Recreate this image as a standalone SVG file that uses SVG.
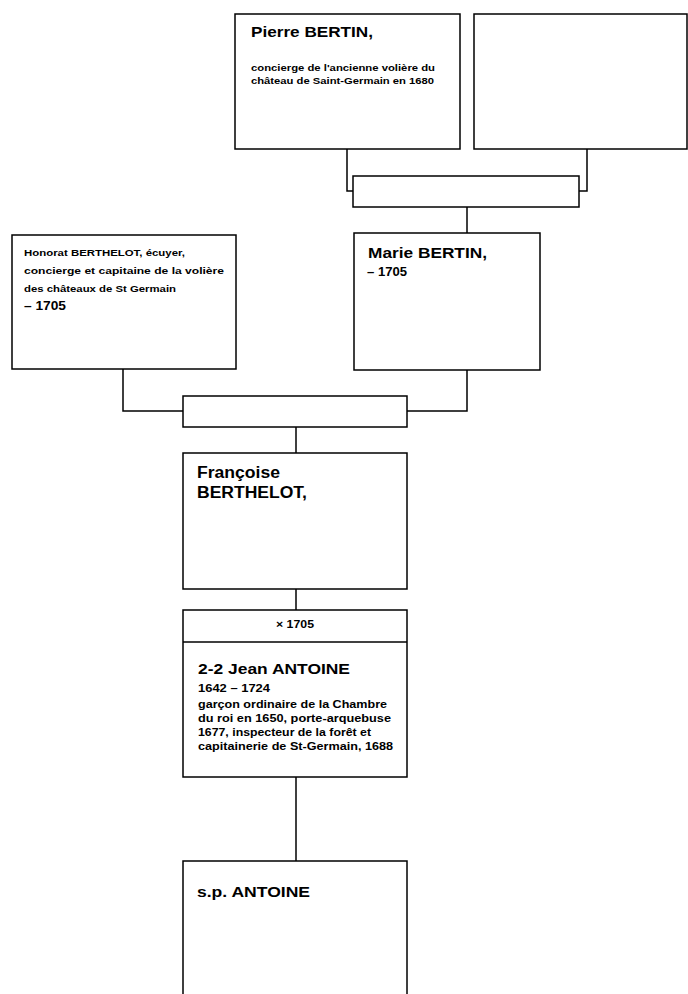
<svg xmlns="http://www.w3.org/2000/svg" width="688" height="994" viewBox="0 0 688 994">
<style>
.box{fill:#fff;stroke:#000;stroke-width:1.5}
.con{fill:none;stroke:#000;stroke-width:1.5}
text{font-family:"Liberation Sans",Arial,sans-serif;font-weight:bold;fill:#000}
.name{font-size:15px}
.sm{font-size:9.5px}
.mid{font-size:11.5px}
</style>
<rect width="688" height="994" fill="#fff"/>
<g id="connectors">
<path class="con" d="M347,149 V191 H353"/>
<path class="con" d="M587,149 V191 H579"/>
<path class="con" d="M467,207 V233"/>
<path class="con" d="M123,369 V411 H183"/>
<path class="con" d="M467,370 V411 H407"/>
<path class="con" d="M296,427 V453"/>
<path class="con" d="M296,589 V610"/>
<path class="con" d="M296,777 V861"/>
</g>
<g id="pierre">
<rect class="box" x="235" y="14" width="225" height="135"/>
<text class="name" x="251" y="37" textLength="122" lengthAdjust="spacingAndGlyphs">Pierre BERTIN,</text>
<text class="sm" x="251" y="71" textLength="184" lengthAdjust="spacingAndGlyphs">concierge de l'ancienne volière du</text>
<text class="sm" x="251" y="84" textLength="183" lengthAdjust="spacingAndGlyphs">château de Saint-Germain en 1680</text>
</g>
<g id="unknown">
<rect class="box" x="474" y="14" width="213" height="135"/>
</g>
<g id="marriage1">
<rect class="box" x="353" y="176" width="226" height="31"/>
</g>
<g id="honorat">
<rect class="box" x="12" y="235" width="224" height="134"/>
<text class="sm" x="24" y="256" textLength="161" lengthAdjust="spacingAndGlyphs">Honorat BERTHELOT, écuyer,</text>
<text class="sm" x="24" y="274" textLength="200" lengthAdjust="spacingAndGlyphs">concierge et capitaine de la volière</text>
<text class="sm" x="24" y="292" textLength="152" lengthAdjust="spacingAndGlyphs">des châteaux de St Germain</text>
<text x="24" y="310" font-size="13" textLength="42" lengthAdjust="spacingAndGlyphs">– 1705</text>
</g>
<g id="marie">
<rect class="box" x="354" y="233" width="186" height="137"/>
<text class="name" x="368" y="258" textLength="119" lengthAdjust="spacingAndGlyphs">Marie BERTIN,</text>
<text x="367" y="276" font-size="12" textLength="40" lengthAdjust="spacingAndGlyphs">– 1705</text>
</g>
<g id="marriage2">
<rect class="box" x="183" y="396" width="224" height="31"/>
</g>
<g id="francoise">
<rect class="box" x="183" y="453" width="224" height="136"/>
<text x="197" y="478" font-size="16" textLength="83" lengthAdjust="spacingAndGlyphs">Françoise</text>
<text x="197" y="498" font-size="16" textLength="110" lengthAdjust="spacingAndGlyphs">BERTHELOT,</text>
</g>
<g id="jean">
<rect class="box" x="183" y="610" width="224" height="167"/>
<line class="con" x1="183" y1="642" x2="407" y2="642"/>
<text x="276" y="628" font-size="10.5" textLength="38" lengthAdjust="spacingAndGlyphs">× 1705</text>
<text class="name" x="198" y="674" font-size="16" textLength="152" lengthAdjust="spacingAndGlyphs">2-2 Jean ANTOINE</text>
<text x="198" y="692" font-size="11" textLength="72" lengthAdjust="spacingAndGlyphs">1642 – 1724</text>
<text class="mid" x="198" y="708" textLength="189" lengthAdjust="spacingAndGlyphs">garçon ordinaire de la Chambre</text>
<text class="mid" x="198" y="722" textLength="193" lengthAdjust="spacingAndGlyphs">du roi en 1650, porte-arquebuse</text>
<text class="mid" x="198" y="736" textLength="173" lengthAdjust="spacingAndGlyphs">1677, inspecteur de la forêt et</text>
<text class="mid" x="198" y="750" textLength="195" lengthAdjust="spacingAndGlyphs">capitainerie de St-Germain, 1688</text>
</g>
<g id="sp">
<rect class="box" x="183" y="861" width="224" height="140"/>
<text class="name" x="197" y="897" textLength="113" lengthAdjust="spacingAndGlyphs">s.p. ANTOINE</text>
</g>
</svg>
